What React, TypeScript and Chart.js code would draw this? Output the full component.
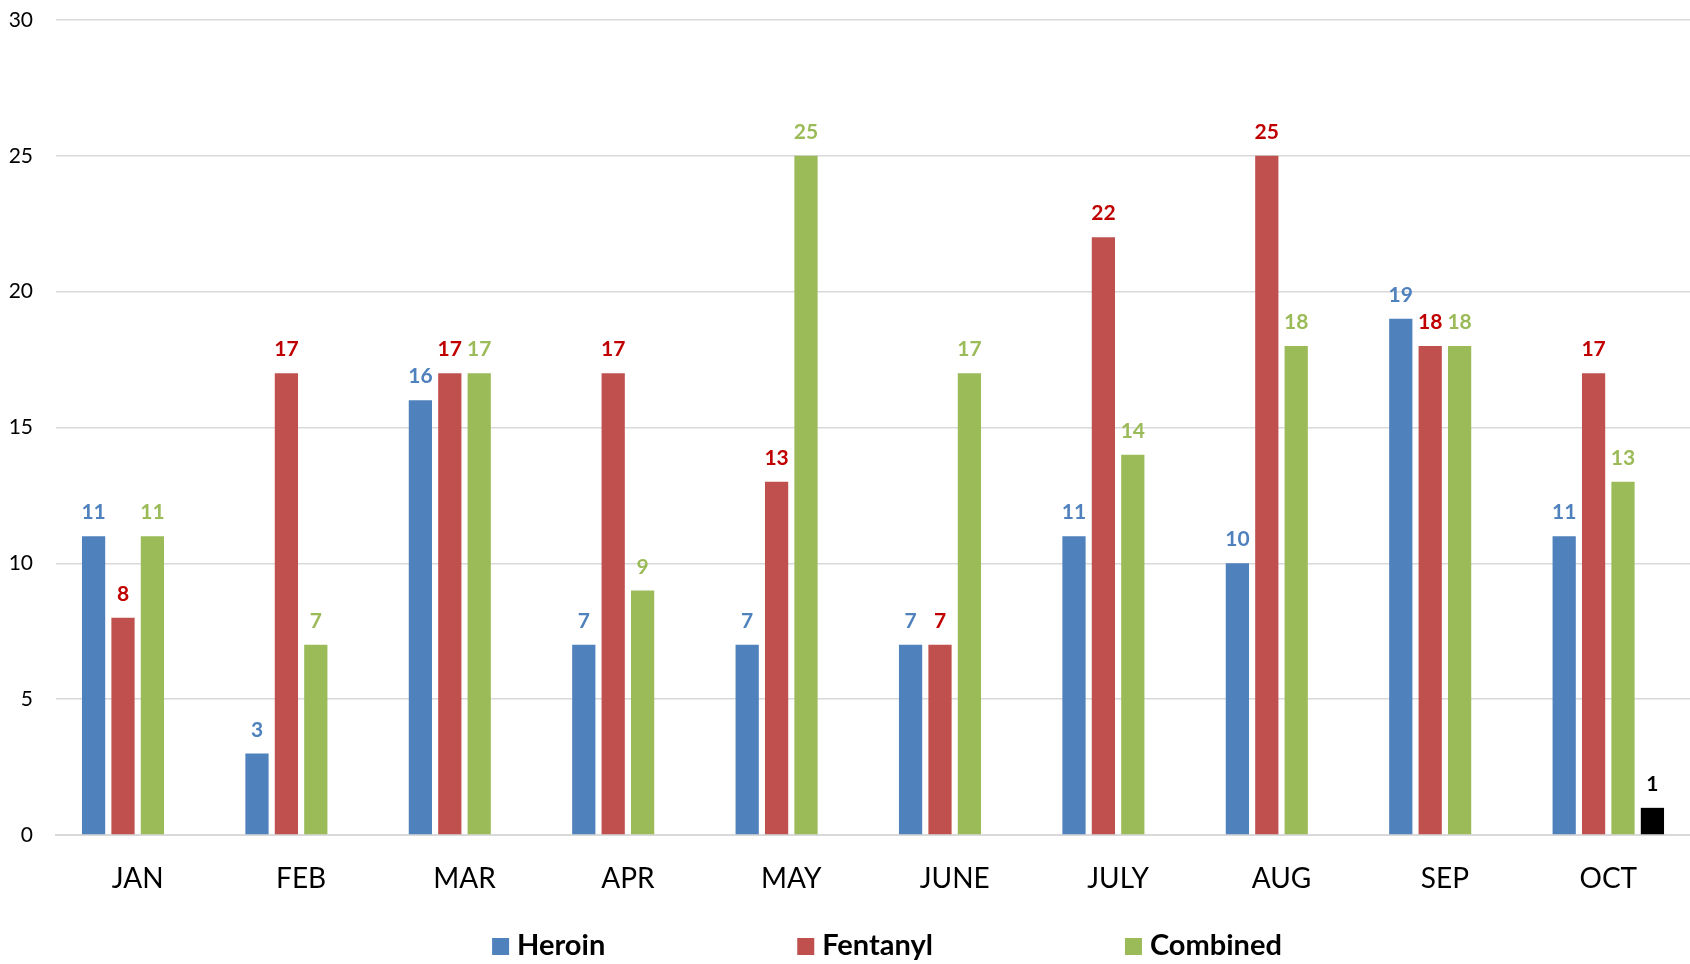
import React, { useEffect, useRef } from "react";
import { Chart, registerables } from "chart.js";

Chart.register(...registerables);

const months = ["JAN", "FEB", "MAR", "APR", "MAY", "JUNE", "JULY", "AUG", "SEP", "OCT"];
const heroin = [11, 3, 16, 7, 7, 7, 11, 10, 19, 11];
const fentanyl = [8, 17, 17, 17, 13, 7, 22, 25, 18, 17];
const combined = [11, 7, 17, 9, 25, 17, 14, 18, 18, 13];
const other = [null, null, null, null, null, null, null, null, null, 1];
const yTicks = [0, 5, 10, 15, 20, 25, 30];

const FONT = "Lato, 'Open Sans', sans-serif";

const dataLabelPlugin = {
  id: "valueLabels",
  afterDatasetsDraw(chart: any) {
    const ctx = chart.ctx;
    ctx.save();
    ctx.font = `bold 21px ${FONT}`;
    ctx.textAlign = "center";
    ctx.textBaseline = "alphabetic";
    chart.data.datasets.forEach((ds: any, di: number) => {
      const meta = chart.getDatasetMeta(di);
      meta.data.forEach((el: any, i: number) => {
        const v = ds.data[i];
        if (v === null || v === undefined) return;
        ctx.fillStyle = ds.labelColor;
        ctx.fillText(String(v), el.x, el.y - 17);
      });
    });
    ctx.restore();
  },
};

const customLegend = {
  id: "customLegend",
  afterDraw(chart: any) {
    const ctx = chart.ctx;
    const items = chart.data.datasets.filter((d: any) => d.inLegend);
    ctx.save();
    ctx.font = `bold 29px ${FONT}`;
    const box = 17;
    const textGap = 8;
    const itemGap = 192;
    const widths = items.map((d: any) => box + textGap + ctx.measureText(d.label).width);
    const total = widths.reduce((a: number, b: number) => a + b, 0) + itemGap * (items.length - 1);
    const ca = chart.chartArea;
    const center = (ca.left + ca.right) / 2 + 14;
    let x = center - total / 2;
    const baseline = 955;
    items.forEach((d: any, i: number) => {
      ctx.fillStyle = d.backgroundColor;
      ctx.fillRect(x, baseline - box, box, box);
      ctx.fillStyle = "#000";
      ctx.textAlign = "left";
      ctx.textBaseline = "alphabetic";
      ctx.fillText(d.label, x + box + textGap, baseline);
      x += widths[i] + itemGap;
    });
    ctx.restore();
  },
};

export default function App() {
  const ref = useRef<HTMLCanvasElement>(null);
  useEffect(() => {
    document.body.style.margin = "0";
    const chart = new Chart(ref.current!, {
      type: "bar",
      data: {
        labels: months,
        datasets: [
          { label: "Heroin", data: heroin, backgroundColor: "#4F81BD", labelColor: "#4F81BD", inLegend: true } as any,
          { label: "Fentanyl", data: fentanyl, backgroundColor: "#C0504D", labelColor: "#C00000", inLegend: true } as any,
          { label: "Combined", data: combined, backgroundColor: "#9BBB59", labelColor: "#9BBB59", inLegend: true } as any,
          { label: "Other", data: other, backgroundColor: "#000000", labelColor: "#000000", inLegend: false } as any,
        ],
      },
      options: {
        animation: false,
        responsive: false,
        maintainAspectRatio: false,
        datasets: { bar: { categoryPercentage: 0.72, barPercentage: 0.79 } },
        layout: { padding: { top: 20, left: 0, right: 0, bottom: 73 } },
        plugins: { legend: { display: false }, tooltip: { enabled: false } },
        scales: {
          x: {
            grid: { display: false, drawTicks: false },
            border: { display: true, color: "#D9D9D9", width: 2 },
            ticks: { color: "#000", font: { family: FONT, size: 28 }, padding: 27 },
            afterFit: (axis: any) => {
              axis.height = 56;
              axis.paddingLeft = 0;
              axis.paddingRight = 0;
            },
          },
          y: {
            min: 0,
            max: 30,
            afterBuildTicks: (axis: any) => {
              axis.ticks = yTicks.map((v) => ({ value: v }));
            },
            afterFit: (axis: any) => {
              axis.width = 56;
              axis.paddingTop = 0;
              axis.paddingBottom = 0;
            },
            grid: { color: "#D9D9D9", lineWidth: 1.5, drawTicks: false },
            border: { display: false },
            ticks: { color: "#000", font: { family: FONT, size: 21 }, padding: 23 },
          },
        },
      },
      plugins: [dataLabelPlugin, customLegend],
    });
    return () => chart.destroy();
  }, []);
  return (
    <div style={{ position: "fixed", left: 0, top: 0, width: 1690, height: 964, background: "#fff" }}>
      <canvas ref={ref} width={1690} height={964} style={{ width: 1690, height: 964 }} />
    </div>
  );
}
